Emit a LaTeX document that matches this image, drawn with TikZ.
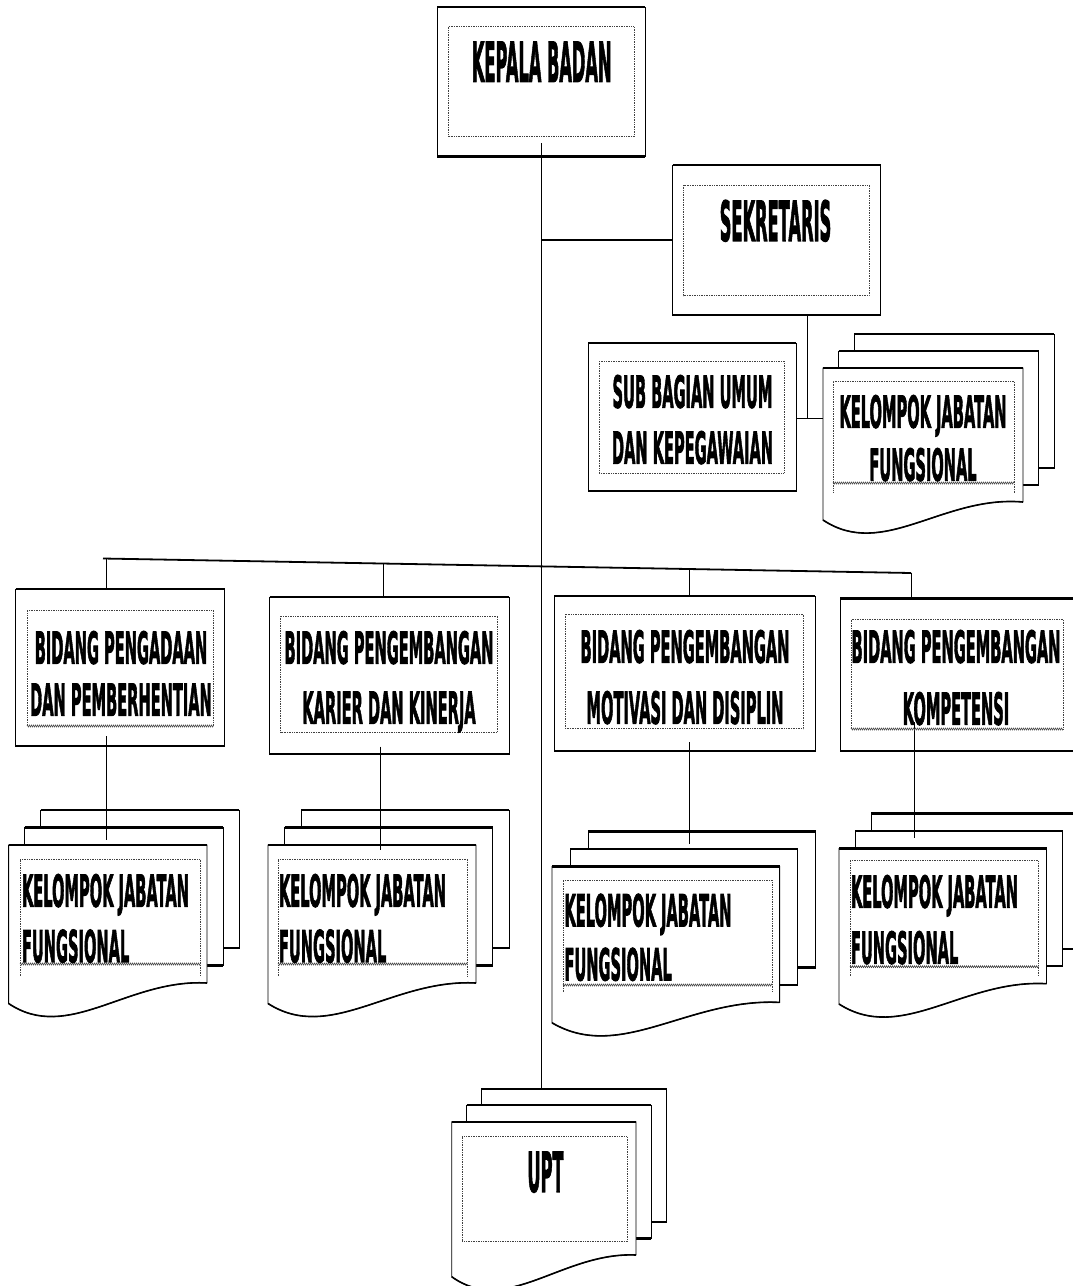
\documentclass[tikz,border=0pt]{standalone}
\usepackage{fontspec}
\newfontfamily\dvb{DejaVu Sans}[BoldFeatures={FakeBold=2.5}]
\usetikzlibrary{fit,calc,decorations.pathmorphing}
\newcommand\sqs[1]{\scalebox{0.332}[1]{#1}}
\newcommand\sqb[1]{\scalebox{0.295}[1]{#1}}
% multi-document stack: name, L, T, R, yR, yL, dx, dy
\newcommand\mdoc[8]{%
 \pgfmathsetmacro\mLa{#2+2*#7}\pgfmathsetmacro\mTa{#3-2*#8}%
 \pgfmathsetmacro\mRa{#4+2*#7}\pgfmathsetmacro\mBa{#5-2*#8}%
 \pgfmathsetmacro\mLb{#2+#7}\pgfmathsetmacro\mTb{#3-#8}%
 \pgfmathsetmacro\mRb{#4+#7}\pgfmathsetmacro\mBb{#5-#8}%
 \pgfmathsetmacro\mCa{#2+0.3*(#4-#2)}\pgfmathsetmacro\mCb{#2+0.6*(#4-#2)}%
 \pgfmathsetmacro\mYa{#6+40}\pgfmathsetmacro\mYb{#6-25}%
 \pgfmathsetmacro\mMid{(\mLa+\mRa)/2}%
 \draw[docs] (\mLa,\mTa) rectangle (\mRa,\mBa);
 \draw[thk] (\mLa,\mTa) -- (\mRa,\mTa) (\mLa,\mBa) -- (\mRa,\mBa);
 \coordinate (#1-back) at (\mMid,\mTa);
 \draw[docs] (\mLb,\mTb) rectangle (\mRb,\mBb);
 \draw[thk] (\mLb,\mTb) -- (\mRb,\mTb) (\mLb,\mBb) -- (\mRb,\mBb);
 \draw[docs] (#2,#6) -- (#2,#3) -- (#4,#3) -- (#4,#5) .. controls (\mCb,\mYb) and (\mCa,\mYa) .. (#2,#6) -- cycle;
 \draw[thk] (#2,#3) -- (#4,#3);
 \draw[line width=1.6pt] (#4,#5) .. controls (\mCb,\mYb) and (\mCa,\mYa) .. (#2,#6);
 \node[fit={(#2,#3) (#4,#6)}, inner sep=0pt, outer sep=0pt] (#1) {};
}
\newcommand\obox[5]{%
 \node[obox, fit={(#2,#3) (#4,#5)}] (#1) {};
 \draw[thk] (#1.north west) -- (#1.north east) (#1.south west) -- (#1.south east);
}
\begin{document}
\begin{tikzpicture}[x=1pt,y=-1pt,
  obox/.style={draw=black, line width=0.9pt, fill=white, inner sep=0pt, outer sep=0pt},
  docs/.style={draw=black, line width=0.9pt, fill=white},
  thk/.style={line width=2.2pt},
  conn/.style={line width=0.8pt},
  conn2/.style={line width=1.8pt},
  innerd/.style={densely dotted, line width=0.7pt, black!75},
  zig/.style={decorate, decoration={zigzag, amplitude=0.9pt, segment length=2pt}, line width=0.6pt, black!70},
  lbl/.style={inner sep=0pt, outer sep=0pt, align=center, font=\dvb\bfseries\fontsize{44}{#1}\selectfont},
  lbl/.default=52,
  big/.style={inner sep=0pt, outer sep=0pt, align=center, font=\dvb\bfseries\fontsize{55}{60}\selectfont}]
\useasboundingbox (0,0) rectangle (1073,1286);
\clip (0,0) rectangle (1073,1286);
\fill[white] (0,0) rectangle (1073,1286);

% ---------- boxes ----------
\obox{kb}{437}{7}{645}{156.5}
\obox{sek}{672.7}{165}{880.7}{315}
\obox{sub}{588}{343}{796}{491}
\obox{b1}{15.5}{589}{224.5}{746}
\obox{b2}{269.6}{597}{509}{754}
\obox{b3}{554}{596}{815}{751}
\obox{b4}{840}{598.5}{1095}{751}

% ---------- document stacks ----------
\mdoc{ks}{823}{368}{1023}{502}{520}{15.5}{17}
\mdoc{k1}{8.6}{845}{207}{983}{1003.5}{16}{17.5}
\mdoc{k2}{268}{845}{476}{983}{1003.5}{16.5}{17.5}
\mdoc{k3}{552}{866.5}{779.6}{1002.4}{1022.8}{18}{17.5}
\mdoc{k4}{839}{848.5}{1046.5}{983.7}{1004}{16}{17.5}
\mdoc{upt}{451.7}{1121.7}{636}{1255}{1276.7}{15}{16.5}

% ---------- connectors ----------
\coordinate (mtop) at (541.5,143);
\draw[conn] (mtop) -- (mtop |- upt-back);
\draw[conn2] (mtop |- sek.west) -- (sek.west);
\coordinate (j1) at (807.5,418.5);
\draw[conn] (sek.south -| j1) -- (j1);
\draw[conn2] (sub.east |- j1) -- (j1) -- (j1 -| ks.west);

\coordinate (busL) at (103,558.5);
\coordinate (busR) at (911,573);
\draw[conn2] (busL) -- (busR);
\coordinate (t1) at (106,558.6);
\coordinate (t2) at (383,563.5);
\coordinate (t3) at (689,569);
\coordinate (t4) at (911,573);
\draw[conn] (t1) -- (t1 |- b1.north);
\draw[conn] (t2) -- (t2 |- b2.north);
\draw[conn] (t3) -- (t3 |- b3.north);
\draw[conn] (t4) -- (t4 |- b4.north);

\coordinate (u1) at (106.5,736);   \coordinate (v1) at (106.5,840);
\coordinate (u2) at (380.5,746.6); \coordinate (v2) at (380.5,850);
\coordinate (u3) at (689.6,742);   \coordinate (v3) at (689.6,844);
\coordinate (u4) at (914,722);     \coordinate (v4) at (914,837.6);
\draw[conn] (u1) -- (v1);
\draw[conn] (u2) -- (v2);
\draw[conn] (u3) -- (v3);
\draw[conn] (u4) -- (v4);

% ---------- inner dotted frames ----------
\draw[innerd] (448.5,26.7) rectangle (634,136.7);
\draw[innerd] (683.5,185) rectangle (869,295.5);
\draw[innerd] (599,361) rectangle (784,473);
\draw[innerd] (833,483) -- (833,381) -- (1014,381) -- (1014,493) (833,483) -- (833,493);
\draw[zig] (833,483) -- (1014,483);
\draw[innerd] (27,726) -- (27,610.6) -- (213.5,610.6) -- (213.5,726);
\draw[zig] (27,726) -- (213.5,726);
\draw[innerd] (280.6,616) rectangle (497.6,732);
\draw[innerd] (565.5,614) rectangle (803.4,728.6);
\draw[innerd] (851,729) -- (851,619) -- (1063,619) -- (1063,729);
\draw[zig] (851,729) -- (1063,729);
\draw[innerd] (20,976) -- (20,859) -- (200,859) -- (200,976);
\draw[zig] (20,964) -- (200,964);
\draw[innerd] (278,976) -- (278,859) -- (467.6,859) -- (467.6,976);
\draw[zig] (278,964) -- (467.6,964);
\draw[innerd] (563,992) -- (563,880) -- (772,880) -- (772,992);
\draw[zig] (563,985) -- (772,985);
\draw[innerd] (850,976) -- (850,860.7) -- (1038.6,860.7) -- (1038.6,976);
\draw[zig] (850,966.7) -- (1038.6,966.7);
\draw[innerd] (462,1136.7) rectangle (627,1241.7);

% ---------- texts ----------
\node[big, anchor=north] (kbt) at (541.7,41.7) {\sqb{KEPALA BADAN}};
\node[big, anchor=north] (sekt) at (775.5,200) {\sqb{SEKRETARIS}};
\node[big, anchor=north] (uptt) at (545.5,1151.7) {\sqb{UPT}};
\node[lbl=56, anchor=north] (subt) at (692.5,375) {\sqs{SUB BAGIAN UMUM}\\\sqs{DAN KEPEGAWAIAN}};
\node[lbl=53, anchor=north] (kst) at (923,395) {\sqs{KELOMPOK JABATAN}\\\sqs{FUNGSIONAL}};
\node[lbl=52, anchor=north] (b1t) at (121,631) {\sqs{BIDANG PENGADAAN}\\\sqs{DAN PEMBERHENTIAN}};
\node[lbl=60, anchor=north] (b2t) at (389,631) {\sqs{BIDANG PENGEMBANGAN}\\\sqs{KARIER DAN KINERJA}};
\node[lbl=61, anchor=north] (b3t) at (685,630) {\sqs{BIDANG PENGEMBANGAN}\\\sqs{MOTIVASI DAN DISIPLIN}};
\node[lbl=62, anchor=north] (b4t) at (956,630) {\sqs{BIDANG PENGEMBANGAN}\\\sqs{KOMPETENSI}};
\node[lbl=55.5, align=left, anchor=north west] (k1t) at (22,874) {\sqs{KELOMPOK JABATAN}\\\sqs{FUNGSIONAL}};
\node[lbl=55.5, align=left, anchor=north west] (k2t) at (279,874) {\sqs{KELOMPOK JABATAN}\\\sqs{FUNGSIONAL}};
\node[lbl=54, align=left, anchor=north west] (k3t) at (564.5,893.7) {\sqs{KELOMPOK JABATAN}\\\sqs{FUNGSIONAL}};
\node[lbl=56, align=left, anchor=north west] (k4t) at (851,875) {\sqs{KELOMPOK JABATAN}\\\sqs{FUNGSIONAL}};
\end{tikzpicture}
\end{document}
